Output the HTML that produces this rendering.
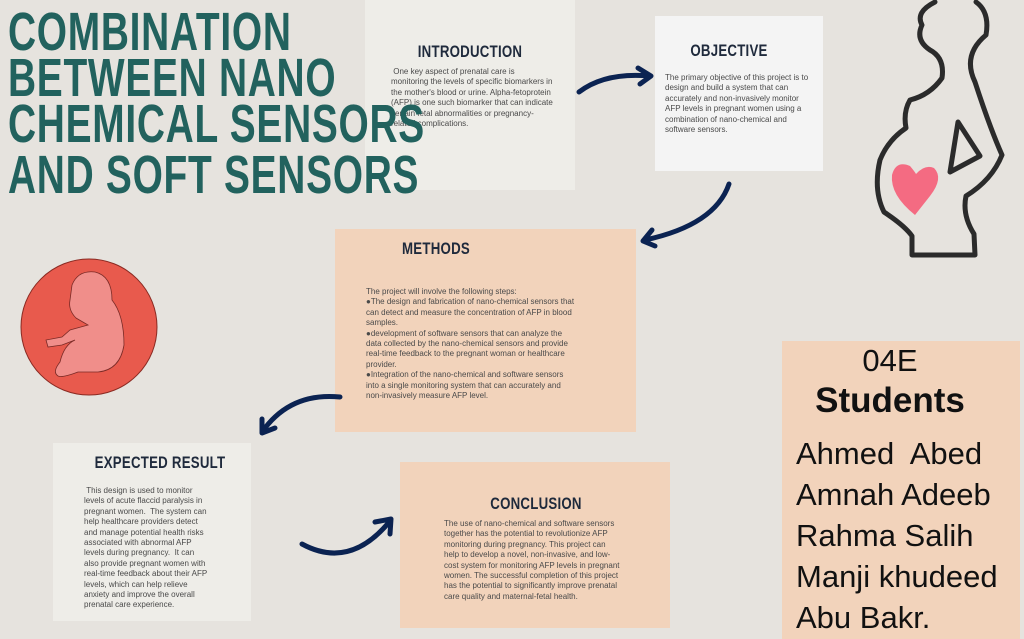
<!DOCTYPE html>
<html><head><meta charset="utf-8"><style>
*{margin:0;padding:0;box-sizing:border-box}
body{width:1024px;height:639px;overflow:hidden;background:#e6e3de;position:relative;font-family:"Liberation Sans",sans-serif}
.box{position:absolute}
.h{position:absolute;font-family:"Liberation Sans",sans-serif;font-weight:bold;color:#1f2a3c;font-size:17px;transform:scaleX(0.78);transform-origin:center;letter-spacing:0.3px;white-space:nowrap;text-align:center}
.t{position:absolute;font-size:8px;line-height:10.4px;color:#4a4a4a}
.title{position:absolute;left:8px;color:#22625e;font-weight:bold;font-size:54px;line-height:45px;white-space:nowrap;transform-origin:left top;letter-spacing:1px}
.nm{position:absolute;left:796px;font-size:31px;color:#111;white-space:nowrap}
</style></head><body>
<div class="box" style="left:365px;top:0;width:210px;height:190px;background:#eeede8"></div>
<div class="box" style="left:655px;top:16px;width:168px;height:155px;background:#f4f4f4"></div>
<div class="box" style="left:335px;top:229px;width:301px;height:203px;background:#f2d3bb"></div>
<div class="box" style="left:53px;top:443px;width:198px;height:178px;background:#eeede8"></div>
<div class="box" style="left:400px;top:462px;width:270px;height:166px;background:#f2d3bb"></div>
<div class="box" style="left:782px;top:341px;width:238px;height:298px;background:#f2d3bb"></div>

<div class="h" style="left:370px;top:42px;width:200px">INTRODUCTION</div>
<div class="t" style="left:391px;top:67px;width:162px">&nbsp;One key aspect of prenatal care is monitoring the levels of specific biomarkers in the mother's blood or urine. Alpha-fetoprotein (AFP) is one such biomarker that can indicate certain fetal abnormalities or pregnancy-related complications.</div>

<div class="h" style="left:655px;top:41px;width:148px">OBJECTIVE</div>
<div class="t" style="left:665px;top:73px;width:150px">The primary objective of this project is to design and build a system that can accurately and non-invasively monitor AFP levels in pregnant women using a combination of nano-chemical and software sensors.</div>

<div class="h" style="left:336px;top:239px;width:200px">METHODS</div>
<div class="t" style="left:366px;top:287px;width:212px">The project will involve the following steps:<br>●The design and fabrication of nano-chemical sensors that can detect and measure the concentration of AFP in blood samples.<br>●development of software sensors that can analyze the data collected by the nano-chemical sensors and provide real-time feedback to the pregnant woman or healthcare provider.<br>●Integration of the nano-chemical and software sensors into a single monitoring system that can accurately and non-invasively measure AFP level.</div>

<div class="h" style="left:60px;top:453px;width:200px">EXPECTED RESULT</div>
<div class="t" style="left:84px;top:486px;width:127px">&nbsp;This design is used to monitor levels of acute flaccid paralysis in pregnant women.&nbsp; The system can help healthcare providers detect and manage potential health risks associated with abnormal AFP levels during pregnancy.&nbsp; It can also provide pregnant women with real-time feedback about their AFP levels, which can help relieve anxiety and improve the overall prenatal care experience.</div>

<div class="h" style="left:436px;top:494px;width:200px">CONCLUSION</div>
<div class="t" style="left:444px;top:519px;width:176px">The use of nano-chemical and software sensors together has the potential to revolutionize AFP monitoring during pregnancy. This project can help to develop a novel, non-invasive, and low-cost system for monitoring AFP levels in pregnant women. The successful completion of this project has the potential to significantly improve prenatal care quality and maternal-fetal health.</div>

<div class="title" style="top:10px;transform:scaleX(0.72)">COMBINATION</div>
<div class="title" style="top:56px;transform:scaleX(0.72)">BETWEEN NANO</div>
<div class="title" style="top:102px;transform:scaleX(0.72)">CHEMICAL SENSORS</div>
<div class="title" style="top:153px;transform:scaleX(0.72)">AND SOFT SENSORS</div>

<div style="position:absolute;left:782px;width:216px;top:343px;text-align:center;font-size:31px;color:#111">04E</div>
<div style="position:absolute;left:782px;width:216px;top:381px;text-align:center;font-size:35px;font-weight:bold;color:#111">Students</div>
<div class="nm" style="top:436px">Ahmed&nbsp; Abed</div>
<div class="nm" style="top:477px">Amnah Adeeb</div>
<div class="nm" style="top:518px">Rahma Salih</div>
<div class="nm" style="top:559px">Manji khudeed</div>
<div class="nm" style="top:600px">Abu Bakr.</div>

<svg width="1024" height="639" style="position:absolute;left:0;top:0" fill="none">
<g stroke="#0b2352" stroke-width="5" stroke-linecap="round" stroke-linejoin="round">
<path d="M579 92 Q605 72 650 76"/><path d="M638 68 L651 76 L640 84"/>
<path d="M729 184 Q715 225 645 240"/><path d="M652 230 L643 241 L655 246"/>
<path d="M340 397 Q290 392 262 432"/><path d="M262 419 L262 433 L275 428"/>
<path d="M302 544 Q350 570 390 521"/><path d="M375 522 L391 519 L390 534"/>
</g>
<circle cx="89" cy="327" r="68" fill="#e85a4d" stroke="#8a2a22" stroke-width="1"/>
<path d="M72 285 Q78 270 95 272 Q112 276 112 300 Q124 315 124 345 Q120 370 98 372 L78 372 Q62 378 58 376 Q52 372 60 362 Q64 345 75 340 L62 345 L48 347 L46 340 L62 337 L70 330 L88 325 L76 318 Q68 310 70 300 Z" fill="#f08e8a" stroke="#7a2a26" stroke-width="0.8"/>
<g stroke="#2b2b2b" stroke-width="5" stroke-linejoin="round" stroke-linecap="round">
<path d="M935 2 Q915 12 922 25 Q915 40 930 50 Q945 58 942 78 Q930 95 910 100 Q903 112 906 128 Q888 140 880 160 Q873 190 884 212 Q905 226 912 236 L912 255 L975 255 L974 234 Q962 215 966 196 Q992 180 1002 155 Q990 128 975 82 Q962 55 986 35 Q990 12 976 2"/>
<path d="M958 122 L980 156 L950 172 Z"/>
</g>
<path d="M915 215 Q890 195 892 175 Q896 160 910 166 Q915 172 916 174 Q925 164 934 168 Q944 178 930 196 Z" fill="#f46b82"/>
</svg>
</body></html>
